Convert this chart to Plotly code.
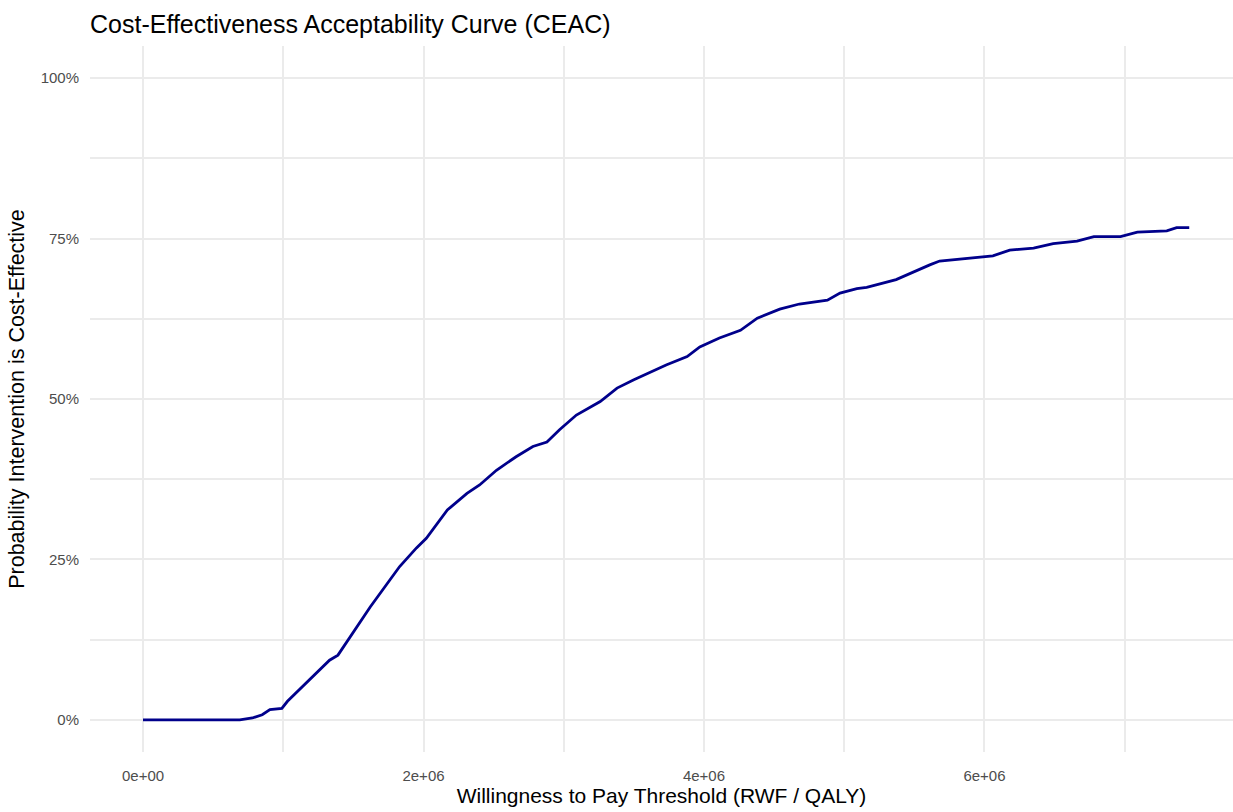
import plotly.graph_objects as go

# Willingness-to-pay thresholds (RWF per QALY) and probability the intervention is cost-effective
wtp = [0, 0.25e6, 0.5e6, 0.69e6, 0.78e6, 0.85e6, 0.905e6, 0.99e6, 1.03e6, 1.14e6,
       1.26e6, 1.33e6, 1.39e6, 1.48e6, 1.62e6, 1.76e6, 1.83e6, 1.95e6, 2.02e6,
       2.17e6, 2.31e6, 2.40e6, 2.52e6, 2.66e6, 2.78e6, 2.88e6, 2.97e6, 3.09e6,
       3.26e6, 3.38e6, 3.50e6, 3.73e6, 3.88e6, 3.97e6, 4.11e6, 4.26e6, 4.38e6,
       4.54e6, 4.68e6, 4.88e6, 4.97e6, 5.09e6, 5.16e6, 5.37e6, 5.49e6, 5.61e6,
       5.68e6, 5.87e6, 6.06e6, 6.18e6, 6.35e6, 6.49e6, 6.66e6, 6.78e6, 6.97e6,
       7.09e6, 7.30e6, 7.37e6, 7.46e6]
prob_ce = [0, 0, 0, 0, 0.003, 0.008, 0.016, 0.018, 0.029, 0.052,
           0.078, 0.093, 0.101, 0.130, 0.176, 0.218, 0.239, 0.268, 0.283,
           0.327, 0.353, 0.366, 0.389, 0.410, 0.426, 0.433, 0.452, 0.475,
           0.496, 0.517, 0.530, 0.553, 0.566, 0.581, 0.595, 0.607, 0.626,
           0.640, 0.648, 0.654, 0.665, 0.672, 0.674, 0.686, 0.698, 0.709,
           0.715, 0.719, 0.723, 0.732, 0.735, 0.742, 0.746, 0.753, 0.753,
           0.760, 0.762, 0.767, 0.767]

x_tick_vals = [0, 2e6, 4e6, 6e6]
x_tick_text = ["0e+00", "2e+06", "4e+06", "6e+06"]
x_minor_vals = [1e6, 3e6, 5e6, 7e6]
y_tick_vals = [0, 0.25, 0.5, 0.75, 1.0]
y_tick_text = ["0%", "25%", "50%", "75%", "100%"]
y_minor_vals = [0.125, 0.375, 0.625, 0.875]

FONT = "Liberation Sans, Arial, sans-serif"
GRID = "#EBEBEB"

fig = go.Figure()
fig.add_trace(go.Scatter(
    x=wtp, y=prob_ce, mode="lines",
    line=dict(color="#00008B", width=2.8),
    hoverinfo="skip", showlegend=False,
))

fig.update_layout(
    width=1233, height=812,
    margin=dict(l=90, r=0, t=46, b=60),
    paper_bgcolor="white", plot_bgcolor="white",
    font=dict(family=FONT, color="#000000"),
    title=dict(
        text="Cost-Effectiveness Acceptability Curve (CEAC)",
        x=90 / 1233, xref="container", xanchor="left",
        y=1 - 24 / 812, yref="container", yanchor="middle",
        font=dict(family=FONT, size=25, color="#000000"),
    ),
    xaxis=dict(
        range=[-0.378e6, 7.772e6],
        tickvals=x_tick_vals, ticktext=x_tick_text,
        showgrid=True, gridcolor=GRID, gridwidth=1.5,
        minor=dict(tickvals=x_minor_vals, showgrid=True, gridcolor=GRID, gridwidth=1.5),
        zeroline=False, showline=False, ticks="",
        tickfont=dict(family=FONT, size=15, color="#4D4D4D"),
        ticklabelstandoff=13,
        title=dict(text="Willingness to Pay Threshold (RWF / QALY)",
                   font=dict(family=FONT, size=21, color="#000000"), standoff=5),
    ),
    yaxis=dict(
        range=[-0.05, 1.05],
        tickvals=y_tick_vals, ticktext=y_tick_text,
        showgrid=True, gridcolor=GRID, gridwidth=1.5,
        minor=dict(tickvals=y_minor_vals, showgrid=True, gridcolor=GRID, gridwidth=1.5),
        zeroline=False, showline=False, ticks="",
        tickfont=dict(family=FONT, size=15, color="#4D4D4D"),
        ticklabelstandoff=10,
        title=dict(text="Probability Intervention is Cost-Effective",
                   font=dict(family=FONT, size=21.5, color="#000000"), standoff=10),
    ),
)

fig.write_html("out.html")
